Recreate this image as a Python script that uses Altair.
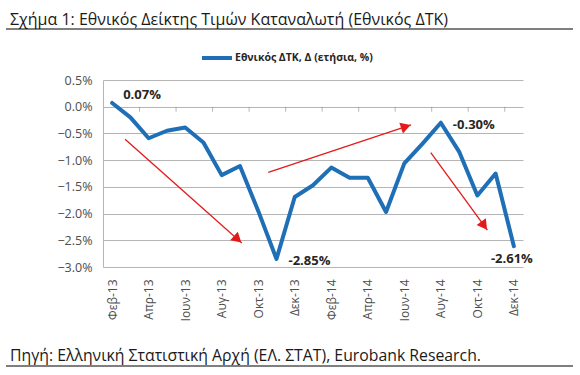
import json
import math
import altair as alt
import pandas as pd

# ---------------- data ----------------
months = ["Φεβ-13", "Μαρ-13", "Απρ-13", "Μαϊ-13", "Ιουν-13", "Ιουλ-13", "Αυγ-13",
          "Σεπ-13", "Οκτ-13", "Νοε-13", "Δεκ-13", "Ιαν-14", "Φεβ-14", "Μαρ-14",
          "Απρ-14", "Μαϊ-14", "Ιουν-14", "Ιουλ-14", "Αυγ-14", "Σεπ-14", "Οκτ-14",
          "Νοε-14", "Δεκ-14"]
cpi = [0.07, -0.20, -0.59, -0.45, -0.39, -0.67, -1.28, -1.11, -1.95, -2.85,
       -1.69, -1.47, -1.14, -1.33, -1.33, -1.97, -1.06, -0.69, -0.30, -0.84,
       -1.66, -1.25, -2.61]
series_name = "Εθνικός ΔΤΚ, Δ (ετήσια, %)"
y_ticks = [0.5, 0.0, -0.5, -1.0, -1.5, -2.0, -2.5, -3.0]
x_label_idx = list(range(0, 23, 2))
x_tick_pos = [i + 1.5 for i in range(0, 21, 2)]

# annotated points: index, text
callout_idx = [0, 9, 18, 22]
callout_txt = ["0.07%", "-2.85%", "-0.30%", "-2.61%"]

# trend arrows (index, value) start -> end
arrow_x0 = [0.71, 8.55, 17.45]
arrow_y0 = [-0.61, -1.23, -0.86]
arrow_x1 = [7.10, 16.37, 20.55]
arrow_y1 = [-2.55, -0.34, -2.31]

title_text = "Σχήμα 1: Εθνικός Δείκτης Τιμών Καταναλωτή (Εθνικός ΔΤΚ)"
source_text = "Πηγή: Ελληνική Στατιστική Αρχή (ΕΛ. ΣΤΑΤ), Eurobank Research."

# ---------------- layout ----------------
W, H = 420, 187
LEFT, TOP = 103, 80
XDOM = [-0.5, 22.5]
YDOM = [-3.0, 0.5]
PXX = W / (XDOM[1] - XDOM[0])
PXY = H / (YDOM[1] - YDOM[0])
BLUE = "#1f6fb6"
RED = "#e41a1a"
FONT = "Open Sans"

df = pd.DataFrame({"idx": list(range(len(months))), "month": months,
                   "v": cpi, "series": series_name})

xs = alt.Scale(domain=XDOM, nice=False, zero=False)
ys = alt.Scale(domain=YDOM, nice=False, zero=False)

month_arr = json.dumps(months, ensure_ascii=False)

x_axis = alt.Axis(values=x_label_idx, labelExpr=month_arr + "[round(datum.value)]",
                  labelAngle=270, labelPadding=12, ticks=False, domain=False,
                  grid=False, title=None, labelFontSize=12, labelColor="#4d4d4d",
                  labelFont=FONT, labelOverlap=False)
y_axis = alt.Axis(values=y_ticks, labelExpr="format(datum.value, '.1f') + '%'",
                  ticks=False, domain=True, domainColor="#b5b5b5", grid=True,
                  gridColor="#b5b5b5", labelPadding=11, title=None,
                  labelFontSize=12.5, labelColor="#4d4d4d", labelFont=FONT,
                  labelOverlap=False)

line = alt.Chart(df).mark_line(strokeWidth=4, strokeJoin="round", strokeCap="round").encode(
    x=alt.X("idx:Q", scale=xs, axis=x_axis),
    y=alt.Y("v:Q", scale=ys, axis=y_axis),
    color=alt.Color("series:N", scale=alt.Scale(range=[BLUE]),
                    legend=alt.Legend(orient="none", legendX=97, legendY=-39,
                                      title=None, symbolType="stroke",
                                      symbolStrokeWidth=4, symbolSize=900,
                                      labelFont=FONT, labelFontSize=10.5,
                                      labelFontWeight="bold", labelColor="#262626",
                                      labelOffset=1, padding=0)),
)

# tick marks on zero line
ticks_df = pd.DataFrame({"t": x_tick_pos, "z": [0.0] * len(x_tick_pos)})
zero_ticks = alt.Chart(ticks_df).mark_tick(orient="vertical", size=5, thickness=1,
                                           color="#9a9a9a", yOffset=2.5).encode(
    x=alt.X("t:Q", scale=xs, axis=x_axis), y=alt.Y("z:Q", scale=ys, axis=y_axis))

# arrows
arr_rows = []
for a, b, c, d in zip(arrow_x0, arrow_y0, arrow_x1, arrow_y1):
    dxp = (c - a) * PXX
    dyp = -(d - b) * PXY  # screen (down positive)
    L = math.hypot(dxp, dyp)
    ux, uy = dxp / L, dyp / L
    ang = math.degrees(math.atan2(ux, -uy)) % 360
    back = 5.5
    arr_rows.append({"x0": a, "y0": b, "x1": c, "y1": d,
                     "hx": c - back * ux / PXX, "hy": d + back * uy / PXY,
                     "ang": ang})
arr_df = pd.DataFrame(arr_rows)

shafts = alt.Chart(arr_df).mark_rule(color=RED, strokeWidth=1.3).encode(
    x=alt.X("x0:Q", scale=xs, axis=x_axis), y=alt.Y("y0:Q", scale=ys, axis=y_axis),
    x2="x1:Q", y2="y1:Q")
heads = alt.Chart(arr_df).mark_point(shape="triangle-up", filled=True, color=RED,
                                     opacity=1, size=130, strokeWidth=0).encode(
    x=alt.X("hx:Q", scale=xs, axis=x_axis), y=alt.Y("hy:Q", scale=ys, axis=y_axis),
    angle=alt.Angle("ang:Q", scale=None))

# callouts
offsets = {0: (11, -8, "left"), 9: (12, 2, "left"), 18: (12, 2, "left"), 22: (-2, 13, "center")}
callouts = []
for i, t in zip(callout_idx, callout_txt):
    dx, dy, al = offsets[i]
    cdf = pd.DataFrame({"idx": [i], "v": [cpi[i]], "t": [t]})
    callouts.append(alt.Chart(cdf).mark_text(font=FONT, fontSize=13, fontWeight="bold",
                                             color="#262626", align=al, baseline="middle",
                                             dx=dx, dy=dy).encode(
        x=alt.X("idx:Q", scale=xs, axis=x_axis), y=alt.Y("v:Q", scale=ys, axis=y_axis),
        text="t:N"))

# title, source and rules
one = pd.DataFrame({"a": [0]})
title = alt.Chart(pd.DataFrame({"t": [title_text]})).mark_text(
    font=FONT, fontSize=16, color="#1a1a1a", align="left", baseline="alphabetic").encode(
    x=alt.value(10 - LEFT), y=alt.value(25 - TOP), text="t:N")
source = alt.Chart(pd.DataFrame({"t": [source_text]})).mark_text(
    font=FONT, fontSize=15.8, color="#1a1a1a", align="left", baseline="alphabetic").encode(
    x=alt.value(10 - LEFT), y=alt.value(361 - TOP), text="t:N")
top_rule = alt.Chart(one).mark_rule(color="#000000", strokeWidth=1.2).encode(
    x=alt.value(6 - LEFT), x2=alt.value(573 - LEFT), y=alt.value(29 - TOP))
bot_rule = alt.Chart(one).mark_rule(color="#000000", strokeWidth=1.2).encode(
    x=alt.value(6 - LEFT), x2=alt.value(573 - LEFT), y=alt.value(366 - TOP))

chart = alt.layer(line, zero_ticks, shafts, heads, *callouts, title, source,
                  top_rule, bot_rule).properties(
    width=W, height=H,
    autosize=alt.AutoSizeParams(type="none"),
    padding={"left": LEFT, "top": TOP, "right": 580 - LEFT - W, "bottom": 375 - TOP - H},
    background="white",
).configure_view(stroke=None)

chart.save("out.html", embed_options={"renderer": "svg", "actions": False})
